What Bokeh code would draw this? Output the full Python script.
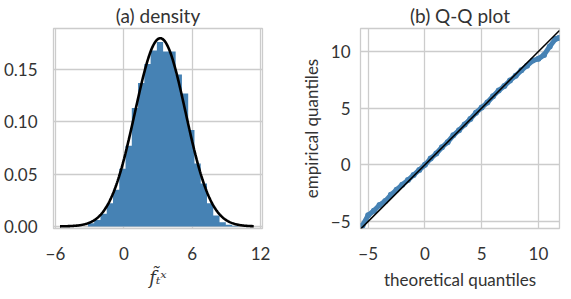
from bokeh.plotting import figure
from bokeh.layouts import row
from bokeh.models import FixedTicker, Range1d
from bokeh.embed import file_html
from bokeh.resources import INLINE
import numpy as np

# ---------------- data ----------------
BIN_LEFT = [-3.15, -2.6, -2.05, -1.5, -0.95, -0.4, 0.15, 0.7, 1.25, 1.8, 2.35, 2.9,
            3.45, 4.0, 4.55, 5.1, 5.65, 6.2, 6.75, 7.3, 7.85, 8.4, 8.95, 9.5]
BIN_WIDTH = 0.55
DENSITY = [0.003, 0.006, 0.012, 0.022, 0.035, 0.055, 0.077, 0.113, 0.137, 0.155, 0.168, 0.176,
           0.167, 0.167, 0.145, 0.127, 0.092, 0.060, 0.041, 0.022, 0.0105, 0.004, 0.0015, 0.0007]
FIT_MU = 3.2
FIT_SIGMA = 2.22
FIT_X_MIN, FIT_X_MAX = -5.6, 11.4

THEO_Q = [-5.5, -5.0, -4.5, -4.0, -3.5, -3.0, -2.5, -2.0, -1.5, -1.0, -0.5, 0.0,
          0.5, 1.0, 1.5, 2.0, 2.5, 3.0, 3.5, 4.0, 4.5, 5.0, 5.5, 6.0,
          6.5, 7.0, 7.5, 8.0, 8.5, 9.0, 9.5, 10.0, 10.5, 11.0, 11.5, 11.8]
EMP_Q = [-5.35, -4.45, -4.05, -3.55, -3.2, -2.65, -2.2, -1.75, -1.35, -0.9, -0.45, 0.0,
         0.55, 1.0, 1.55, 2.0, 2.6, 3.05, 3.55, 4.05, 4.6, 5.05, 5.5, 6.05,
         6.55, 6.95, 7.45, 7.85, 8.35, 8.75, 9.2, 9.35, 9.7, 10.45, 11.1, 11.2]

X_TICKS_A = [-6, 0, 6, 12]
Y_TICKS_A = [0.0, 0.05, 0.10, 0.15]
X_TICKS_B = [-5, 0, 5, 10]
Y_TICKS_B = [-5, 0, 5, 10]

BLUE = "#4682b4"
GRID = "#cccccc"
TXT = "#333333"
FONT = "Lato"


def fmt_int(v):
    return ("\u2212" + str(abs(int(v)))) if v < 0 else str(int(v))


def style(p, standoff_x, standoff_y):
    p.title.text_font = FONT
    p.title.text_font_size = "19px"
    p.title.text_font_style = "normal"
    p.title.text_color = TXT
    p.title.align = "center"
    p.title.offset = 0
    p.title.standoff = 3
    p.outline_line_color = GRID
    p.outline_line_width = 1.3
    for g in (p.xgrid, p.ygrid):
        g.grid_line_color = GRID
        g.grid_line_width = 1.3
    for ax in (p.xaxis, p.yaxis):
        ax.axis_line_color = None
        ax.major_tick_line_color = None
        ax.minor_tick_line_color = None
        ax.major_label_text_font = FONT
        ax.major_label_text_font_size = "17px"
        ax.major_label_text_color = TXT
        ax.axis_label_text_font = FONT
        ax.axis_label_text_font_size = "17px"
        ax.axis_label_text_font_style = "normal"
        ax.axis_label_text_color = TXT
    p.xaxis.major_label_standoff = standoff_x
    p.yaxis.major_label_standoff = standoff_y
    p.background_fill_color = "white"
    p.border_fill_color = "white"


# ---------------- (a) density ----------------
p1 = figure(frame_width=209, frame_height=200, output_backend="svg", toolbar_location=None,
            x_range=Range1d(-6.17, 12.17), y_range=Range1d(-0.002, 0.189),
            title="(a) density", min_border_left=48, min_border_right=35,
            min_border_top=25, min_border_bottom=50)
edges = list(BIN_LEFT) + [BIN_LEFT[-1] + BIN_WIDTH]
heights = list(DENSITY) + [DENSITY[-1]]
p1.varea_step(x=edges, y1=[0] * len(edges), y2=heights, step_mode="after",
              fill_color=BLUE)
xs = np.linspace(FIT_X_MIN, FIT_X_MAX, 300)
pdf = np.exp(-0.5 * ((xs - FIT_MU) / FIT_SIGMA) ** 2) / (FIT_SIGMA * np.sqrt(2 * np.pi))
p1.line(xs, pdf, line_color="black", line_width=2.6)
style(p1, 12, 10)
p1.xaxis.ticker = FixedTicker(ticks=X_TICKS_A)
p1.xaxis.major_label_overrides = {t: fmt_int(t) for t in X_TICKS_A}
p1.yaxis.ticker = FixedTicker(ticks=Y_TICKS_A)
p1.yaxis.major_label_overrides = {t: f"{t:.2f}" for t in Y_TICKS_A}
p1.xaxis.axis_label = "f\u0303\u209c\u02e3"
p1.xaxis.axis_label_text_font = "DejaVu Serif"
p1.xaxis.axis_label_text_font_style = "italic"
p1.xaxis.axis_label_text_font_size = "18px"
p1.xaxis.axis_label_standoff = 4

# ---------------- (b) Q-Q plot ----------------
p2 = figure(frame_width=199, frame_height=200, output_backend="svg", toolbar_location=None,
            x_range=Range1d(-5.68, 11.86), y_range=Range1d(-5.62, 12.03),
            title="(b) Q-Q plot", min_border_left=62, min_border_right=2,
            min_border_top=25, min_border_bottom=50)
p2.line(THEO_Q, EMP_Q, line_color=BLUE, line_width=5, line_join="round")
p2.scatter(THEO_Q, EMP_Q, size=6, fill_color=BLUE, line_color=None)
p2.line([-5.68, 11.86], [-5.68, 11.86], line_color="black", line_width=1.5)
style(p2, 12, 4)
p2.xaxis.ticker = FixedTicker(ticks=X_TICKS_B)
p2.xaxis.major_label_overrides = {t: fmt_int(t) for t in X_TICKS_B}
p2.yaxis.ticker = FixedTicker(ticks=Y_TICKS_B)
p2.yaxis.major_label_overrides = {t: fmt_int(t) for t in Y_TICKS_B}
p2.xaxis.axis_label = "theoretical quantiles"
p2.yaxis.axis_label = "empirical quantiles"
p2.xaxis.axis_label_standoff = 6
p2.yaxis.axis_label_standoff = 6

layout = row(p1, p2)
open("out.html", "w").write(file_html(layout, INLINE))
